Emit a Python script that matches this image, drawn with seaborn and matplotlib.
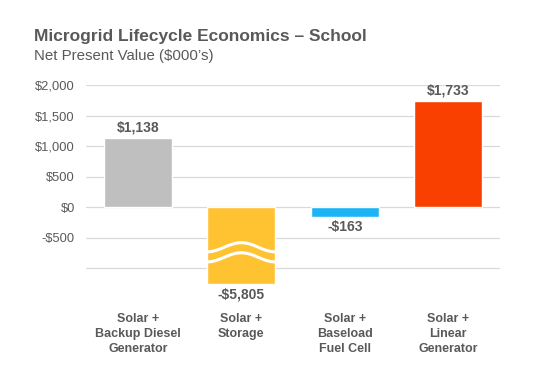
import numpy as np
import pandas as pd
import matplotlib
matplotlib.use("Agg")
import matplotlib.pyplot as plt
import seaborn as sns

# ---- data ----
categories = ["Solar +\nBackup Diesel\nGenerator", "Solar +\nStorage",
              "Solar +\nBaseload\nFuel Cell", "Solar +\nLinear\nGenerator"]
npv_values = [1138, -5805, -163, 1733]
bar_labels = ["$1,138", "-$5,805", "-$163", "$1,733"]
bar_colors = ["#BFBFBF", "#FFC332", "#1DB4F5", "#F94000"]
y_ticks = [2000, 1500, 1000, 500, 0, -500, -1000]
y_tick_labels = ["$2,000", "$1,500", "$1,000", "$500", "$0", "-$500", ""]
axis_floor = -1260  # truncated display extent for broken bar

TXT = "#595959"
sns.set_theme(style="white")
plt.rcParams["font.family"] = ["Liberation Sans", "DejaVu Sans"]

fig = plt.figure(figsize=(5.56, 3.73), dpi=100)
ax = fig.add_axes([0.1547, 0.2324, 0.7446, 0.5397])

display_vals = np.maximum(np.array(npv_values, dtype=float), axis_floor)
df = pd.DataFrame({"cat": categories, "val": display_vals})
sns.barplot(data=df, x="cat", y="val", hue="cat", palette=bar_colors,
            legend=False, width=0.66, saturation=1, ax=ax, zorder=3)

ax.set_ylim(-1300, 2000)
ax.set_yticks(y_ticks)
ax.set_yticklabels(y_tick_labels)
ax.grid(axis="y", color="#D9D9D9", linewidth=0.9, zorder=0)
ax.set_axisbelow(True)
for s in ax.spines.values():
    s.set_visible(False)
ax.tick_params(axis="y", length=0, pad=8, labelsize=9.3, labelcolor=TXT)
ax.tick_params(axis="x", length=0, pad=19.5, labelsize=9, labelcolor=TXT)
for lab in ax.get_xticklabels():
    lab.set_fontweight("bold")
    lab.set_linespacing(1.3)
ax.set_xlabel("")
ax.set_ylabel("")
ax.set_xlim(-0.5, 3.5)

# value labels
for i, (v, d, lab) in enumerate(zip(npv_values, display_vals, bar_labels)):
    if v >= 0:
        ax.annotate(lab, (i, d), xytext=(0, 2.5), textcoords="offset points",
                    ha="center", va="bottom", fontsize=10, fontweight="bold",
                    color=TXT, annotation_clip=False)
    else:
        ax.annotate(lab, (i, d), xytext=(0, -2.5), textcoords="offset points",
                    ha="center", va="top", fontsize=10, fontweight="bold",
                    color=TXT, annotation_clip=False)

# break marks (white waves) on truncated bar
for i, (v, d) in enumerate(zip(npv_values, display_vals)):
    if v < axis_floor:
        t = np.linspace(0, 1, 100)
        xs = i - 0.33 + 0.66 * t
        for c in (-660, -825):
            ax.plot(xs, c - 75 * np.cos(2 * np.pi * t), color="white",
                    linewidth=2.2, zorder=4, solid_capstyle="butt")

fig.text(34 / 556, 1 - 36 / 373, "Microgrid Lifecycle Economics \u2013 School",
         fontsize=12.5, fontweight="bold", color=TXT, va="center", ha="left")
fig.text(34 / 556, 1 - 56 / 373, "Net Present Value ($000\u2019s)",
         fontsize=10.8, color=TXT, va="center", ha="left")

fig.savefig("out.png", dpi=100)
